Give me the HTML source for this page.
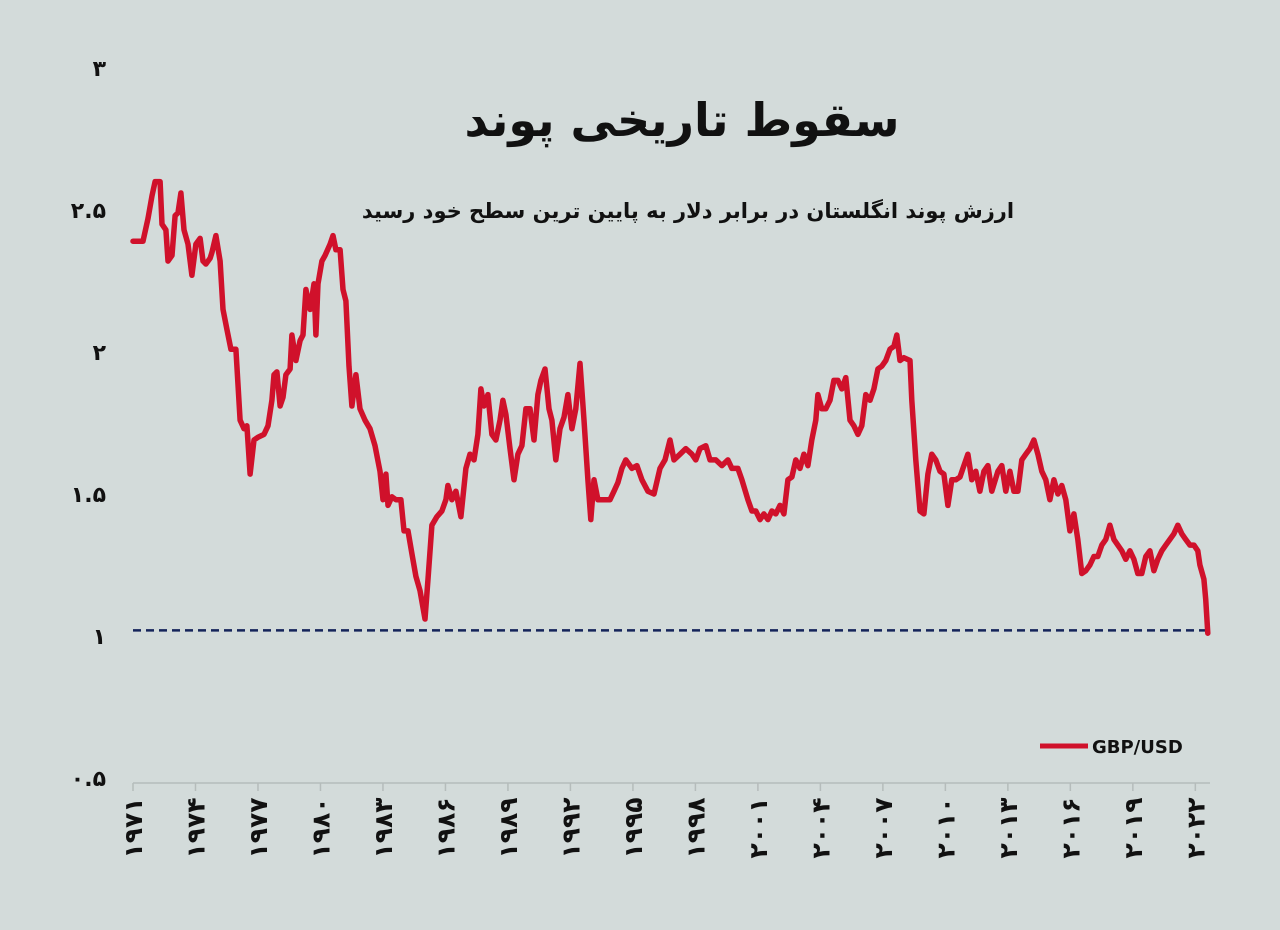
<!DOCTYPE html>
<html><head><meta charset="utf-8"><style>
body{margin:0;background:#d3dbda;}
svg{display:block}
text{font-family:"DejaVu Sans","Liberation Sans",sans-serif;font-weight:bold;fill:#111}
</style></head><body>
<svg id="c" width="1280" height="930">
<rect width="1280" height="930" fill="#d3dbda"/>
<text x="682" y="136" text-anchor="middle" font-size="46" direction="rtl">سقوط تاریخی پوند</text>
<text x="688" y="218" text-anchor="middle" font-size="21" direction="rtl">ارزش پوند انگلستان در برابر دلار به پایین ترین سطح خود رسید</text>
<g id="yax"></g>
<g id="xax"></g>
<g id="plot"></g>
<g>
<line x1="1040" y1="746" x2="1088" y2="746" stroke="#d0112b" stroke-width="5"/>
<text x="1092" y="753" font-size="18" font-family="Liberation Sans">GBP/USD</text>
</g>
</svg>
<script>
const years=[1971.0,1971.48,1971.72,1971.91,1972.06,1972.3,1972.39,1972.58,1972.68,1972.87,1973.02,1973.16,1973.3,1973.45,1973.64,1973.83,1974.02,1974.22,1974.36,1974.5,1974.7,1974.79,1974.98,1975.18,1975.32,1975.51,1975.7,1975.94,1976.14,1976.33,1976.47,1976.62,1976.81,1977.0,1977.29,1977.48,1977.67,1977.77,1977.91,1978.06,1978.2,1978.34,1978.54,1978.63,1978.82,1979.02,1979.16,1979.3,1979.5,1979.69,1979.78,1979.88,1980.07,1980.22,1980.46,1980.6,1980.74,1980.94,1981.08,1981.22,1981.37,1981.51,1981.7,1981.9,1982.14,1982.38,1982.62,1982.86,1983.0,1983.14,1983.24,1983.43,1983.62,1983.86,1984.01,1984.2,1984.39,1984.58,1984.78,1985.02,1985.16,1985.35,1985.59,1985.83,1986.02,1986.12,1986.31,1986.5,1986.74,1986.98,1987.18,1987.37,1987.56,1987.7,1987.85,1988.04,1988.23,1988.42,1988.62,1988.76,1988.9,1989.1,1989.29,1989.48,1989.67,1989.86,1990.06,1990.25,1990.44,1990.58,1990.78,1990.97,1991.11,1991.3,1991.5,1991.69,1991.88,1992.07,1992.26,1992.46,1992.65,1992.84,1992.98,1993.13,1993.32,1993.61,1993.9,1994.09,1994.28,1994.47,1994.66,1994.95,1995.19,1995.43,1995.72,1996.01,1996.3,1996.54,1996.78,1996.97,1997.26,1997.54,1997.83,1998.02,1998.22,1998.5,1998.7,1998.98,1999.27,1999.56,1999.75,2000.04,2000.23,2000.52,2000.71,2000.9,2001.1,2001.29,2001.48,2001.67,2001.86,2002.06,2002.25,2002.44,2002.63,2002.82,2003.02,2003.21,2003.4,2003.59,2003.78,2003.88,2004.07,2004.26,2004.46,2004.65,2004.84,2005.03,2005.22,2005.42,2005.61,2005.8,2005.99,2006.18,2006.38,2006.57,2006.76,2006.95,2007.14,2007.34,2007.53,2007.67,2007.82,2008.01,2008.3,2008.39,2008.58,2008.78,2008.97,2009.16,2009.35,2009.54,2009.74,2009.93,2010.12,2010.31,2010.5,2010.7,2010.89,2011.08,2011.27,2011.46,2011.66,2011.85,2012.04,2012.23,2012.52,2012.71,2012.9,2013.1,2013.29,2013.48,2013.67,2013.86,2014.06,2014.25,2014.44,2014.63,2014.82,2015.02,2015.21,2015.4,2015.59,2015.78,2015.98,2016.17,2016.36,2016.55,2016.74,2016.94,2017.13,2017.32,2017.51,2017.7,2017.9,2018.09,2018.28,2018.47,2018.66,2018.86,2019.05,2019.24,2019.43,2019.62,2019.82,2020.01,2020.2,2020.39,2020.58,2020.78,2020.97,2021.16,2021.35,2021.54,2021.74,2021.93,2022.12,2022.22,2022.41,2022.5,2022.6];
const rates=[2.39,2.39,2.47,2.55,2.60,2.60,2.45,2.43,2.32,2.34,2.48,2.49,2.56,2.43,2.38,2.27,2.38,2.40,2.32,2.31,2.33,2.35,2.41,2.32,2.15,2.08,2.01,2.01,1.76,1.73,1.74,1.57,1.69,1.70,1.71,1.74,1.83,1.92,1.93,1.81,1.84,1.92,1.94,2.06,1.97,2.04,2.06,2.22,2.15,2.24,2.06,2.24,2.32,2.34,2.38,2.41,2.36,2.36,2.22,2.18,1.95,1.81,1.92,1.80,1.76,1.73,1.67,1.58,1.48,1.57,1.46,1.49,1.48,1.48,1.37,1.37,1.29,1.21,1.16,1.06,1.20,1.39,1.42,1.44,1.48,1.53,1.48,1.51,1.42,1.59,1.64,1.62,1.71,1.87,1.81,1.85,1.71,1.69,1.76,1.83,1.78,1.66,1.55,1.64,1.67,1.80,1.80,1.69,1.85,1.90,1.94,1.80,1.76,1.62,1.73,1.77,1.85,1.73,1.80,1.96,1.76,1.55,1.41,1.55,1.48,1.48,1.48,1.51,1.54,1.59,1.62,1.59,1.60,1.55,1.51,1.50,1.59,1.62,1.69,1.62,1.64,1.66,1.64,1.62,1.66,1.67,1.62,1.62,1.60,1.62,1.59,1.59,1.55,1.48,1.44,1.44,1.41,1.43,1.41,1.44,1.43,1.46,1.43,1.55,1.56,1.62,1.59,1.64,1.60,1.69,1.76,1.85,1.80,1.80,1.83,1.90,1.90,1.87,1.91,1.76,1.74,1.71,1.74,1.85,1.83,1.87,1.94,1.95,1.97,2.01,2.02,2.06,1.97,1.98,1.97,1.83,1.62,1.44,1.43,1.57,1.64,1.62,1.58,1.57,1.46,1.55,1.55,1.56,1.60,1.64,1.55,1.58,1.51,1.58,1.60,1.51,1.58,1.60,1.51,1.58,1.51,1.51,1.62,1.64,1.66,1.69,1.64,1.58,1.55,1.48,1.55,1.50,1.53,1.48,1.37,1.43,1.34,1.22,1.23,1.25,1.28,1.28,1.32,1.34,1.39,1.34,1.32,1.30,1.27,1.30,1.27,1.22,1.22,1.28,1.30,1.23,1.27,1.30,1.32,1.34,1.36,1.39,1.36,1.34,1.32,1.32,1.30,1.25,1.20,1.13,1.01];
const yTicks=[0.5,1,1.5,2,2.5,3];
const yTickLabels=["۰.۵","۱","۱.۵","۲","۲.۵","۳"];
const xTicks=[1971,1974,1977,1980,1983,1986,1989,1992,1995,1998,2001,2004,2007,2010,2013,2016,2019,2022];
const xTickLabels=["۱۹۷۱","۱۹۷۴","۱۹۷۷","۱۹۸۰","۱۹۸۳","۱۹۸۶","۱۹۸۹","۱۹۹۲","۱۹۹۵","۱۹۹۸","۲۰۰۱","۲۰۰۴","۲۰۰۷","۲۰۱۰","۲۰۱۳","۲۰۱۶","۲۰۱۹","۲۰۲۲"];
const refLevel=[1.02];

const NS="http://www.w3.org/2000/svg";
const X=y=>133+(y-1971)*20.83;
const Y=v=>636-(v-1)*284;
function mk(t,a,p){const e=document.createElementNS(NS,t);for(const k in a)e.setAttribute(k,a[k]);p.appendChild(e);return e;}
const yax=document.getElementById('yax'),xax=document.getElementById('xax'),plot=document.getElementById('plot');
yTicks.forEach((v,i)=>{const t=mk('text',{x:106,y:Y(v)+8,'text-anchor':'end','font-size':22},yax);t.textContent=yTickLabels[i];

});
const ax=mk('line',{x1:X(1971),x2:1210,y1:783,y2:783,stroke:'#b5bcbb','stroke-width':1.5},xax);


xTicks.forEach((v,i)=>{const x=X(v);
const tk=mk('line',{x1:x,x2:x,y1:783,y2:791,stroke:'#b5bcbb','stroke-width':1.5},xax);


const t=mk('text',{x:0,y:0,'text-anchor':'middle','font-size':25,transform:`translate(${x+9},828) rotate(-90)`},xax);t.textContent=xTickLabels[i];

});
const ref=mk('line',{x1:X(1971),x2:X(years[years.length-1]),y1:Y(refLevel[0]),y2:Y(refLevel[0]),stroke:'#14245a','stroke-width':2.5,'stroke-dasharray':'8,5'},plot);


const d=years.map((y,i)=>(i?'L':'M')+X(y).toFixed(1)+','+Y(rates[i]).toFixed(1)).join('');
const ln=mk('path',{d:d,fill:'none',stroke:'#d0112b','stroke-width':5.5,'stroke-linejoin':'round','stroke-linecap':'round'},plot);


</script>
</body></html>
